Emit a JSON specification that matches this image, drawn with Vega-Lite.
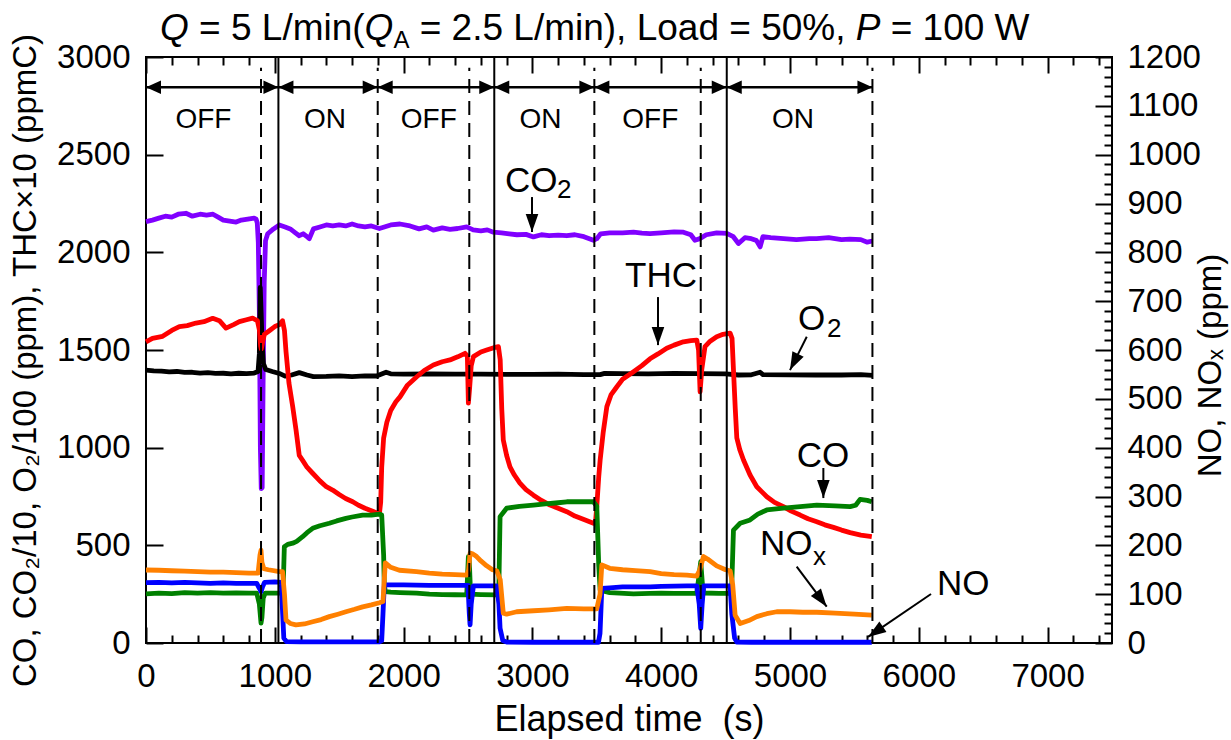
{
  "$schema": "https://vega.github.io/schema/vega-lite/v6.json",
  "width": 966,
  "height": 586,
  "autosize": {"type": "none"},
  "padding": {"left": 146, "top": 57, "right": 119, "bottom": 97},
  "background": "white",
  "config": {"view": {"stroke": "black", "strokeWidth": 2}, "font": "Liberation Sans", "axis": {"ticks": true, "tickColor": "#000000", "tickOpacity": 1}},
  "datasets": {
    "co2": [{"t":0,"v":2157},{"t":50,"v":2165},{"t":100,"v":2175},{"t":150,"v":2185},{"t":200,"v":2180},{"t":250,"v":2195},{"t":310,"v":2200},{"t":360,"v":2185},{"t":420,"v":2195},{"t":470,"v":2190},{"t":520,"v":2195},{"t":560,"v":2180},{"t":600,"v":2165},{"t":650,"v":2160},{"t":700,"v":2155},{"t":740,"v":2165},{"t":790,"v":2170},{"t":840,"v":2175},{"t":855,"v":2170},{"t":864,"v":2150},{"t":872,"v":2050},{"t":880,"v":1700},{"t":888,"v":1000},{"t":895,"v":790},{"t":902,"v":795},{"t":910,"v":1400},{"t":918,"v":1850},{"t":928,"v":2060},{"t":945,"v":2095},{"t":990,"v":2120},{"t":1035,"v":2140},{"t":1080,"v":2130},{"t":1120,"v":2120},{"t":1160,"v":2100},{"t":1190,"v":2085},{"t":1220,"v":2095},{"t":1250,"v":2080},{"t":1268,"v":2070},{"t":1300,"v":2120},{"t":1350,"v":2130},{"t":1400,"v":2140},{"t":1450,"v":2135},{"t":1500,"v":2140},{"t":1550,"v":2135},{"t":1600,"v":2145},{"t":1650,"v":2135},{"t":1700,"v":2130},{"t":1750,"v":2135},{"t":1812,"v":2122},{"t":1850,"v":2130},{"t":1900,"v":2140},{"t":1972,"v":2145},{"t":2050,"v":2135},{"t":2120,"v":2120},{"t":2180,"v":2130},{"t":2231,"v":2114},{"t":2300,"v":2125},{"t":2360,"v":2118},{"t":2420,"v":2122},{"t":2490,"v":2130},{"t":2540,"v":2115},{"t":2600,"v":2110},{"t":2650,"v":2115},{"t":2697,"v":2103},{"t":2760,"v":2100},{"t":2820,"v":2095},{"t":2880,"v":2090},{"t":2950,"v":2092},{"t":3008,"v":2079},{"t":3070,"v":2090},{"t":3130,"v":2085},{"t":3200,"v":2088},{"t":3267,"v":2085},{"t":3330,"v":2090},{"t":3400,"v":2080},{"t":3474,"v":2062},{"t":3500,"v":2070},{"t":3530,"v":2095},{"t":3600,"v":2100},{"t":3700,"v":2100},{"t":3785,"v":2103},{"t":3850,"v":2098},{"t":3913,"v":2096},{"t":4000,"v":2100},{"t":4100,"v":2105},{"t":4172,"v":2103},{"t":4230,"v":2090},{"t":4262,"v":2062},{"t":4300,"v":2070},{"t":4350,"v":2090},{"t":4431,"v":2100},{"t":4509,"v":2097},{"t":4560,"v":2080},{"t":4600,"v":2045},{"t":4650,"v":2075},{"t":4700,"v":2070},{"t":4740,"v":2060},{"t":4768,"v":2028},{"t":4790,"v":2080},{"t":4850,"v":2075},{"t":4950,"v":2070},{"t":5050,"v":2065},{"t":5150,"v":2070},{"t":5206,"v":2070},{"t":5300,"v":2075},{"t":5400,"v":2065},{"t":5465,"v":2068},{"t":5550,"v":2065},{"t":5600,"v":2052},{"t":5640,"v":2058}],
    "o2": [{"t":0,"v":1397},{"t":60,"v":1393},{"t":120,"v":1392},{"t":180,"v":1388},{"t":240,"v":1390},{"t":300,"v":1385},{"t":360,"v":1386},{"t":420,"v":1382},{"t":480,"v":1384},{"t":540,"v":1380},{"t":600,"v":1381},{"t":660,"v":1378},{"t":720,"v":1381},{"t":780,"v":1379},{"t":840,"v":1382},{"t":870,"v":1390},{"t":880,"v":1480},{"t":887,"v":1820},{"t":894,"v":1690},{"t":901,"v":1540},{"t":912,"v":1430},{"t":930,"v":1400},{"t":980,"v":1390},{"t":1035,"v":1380},{"t":1080,"v":1366},{"t":1130,"v":1372},{"t":1190,"v":1384},{"t":1250,"v":1372},{"t":1300,"v":1364},{"t":1400,"v":1365},{"t":1500,"v":1368},{"t":1600,"v":1364},{"t":1700,"v":1368},{"t":1790,"v":1367},{"t":1864,"v":1386},{"t":1900,"v":1378},{"t":2000,"v":1376},{"t":2200,"v":1378},{"t":2400,"v":1376},{"t":2600,"v":1377},{"t":2800,"v":1375},{"t":3000,"v":1375},{"t":3200,"v":1376},{"t":3400,"v":1374},{"t":3526,"v":1374},{"t":3560,"v":1380},{"t":3700,"v":1379},{"t":3900,"v":1378},{"t":4100,"v":1380},{"t":4300,"v":1379},{"t":4500,"v":1378},{"t":4600,"v":1372},{"t":4700,"v":1373},{"t":4768,"v":1386},{"t":4790,"v":1374},{"t":5000,"v":1373},{"t":5200,"v":1372},{"t":5400,"v":1372},{"t":5550,"v":1374},{"t":5640,"v":1370}],
    "thc": [{"t":0,"v":1542},{"t":50,"v":1560},{"t":129,"v":1570},{"t":200,"v":1600},{"t":259,"v":1620},{"t":320,"v":1625},{"t":388,"v":1638},{"t":450,"v":1645},{"t":518,"v":1662},{"t":570,"v":1650},{"t":621,"v":1612},{"t":680,"v":1630},{"t":725,"v":1645},{"t":780,"v":1655},{"t":828,"v":1663},{"t":865,"v":1650},{"t":880,"v":1604},{"t":890,"v":1520},{"t":895,"v":1505},{"t":905,"v":1540},{"t":919,"v":1580},{"t":960,"v":1600},{"t":1000,"v":1620},{"t":1035,"v":1630},{"t":1060,"v":1650},{"t":1075,"v":1600},{"t":1087,"v":1492},{"t":1110,"v":1330},{"t":1139,"v":1210},{"t":1165,"v":1090},{"t":1190,"v":960},{"t":1216,"v":935},{"t":1250,"v":900},{"t":1294,"v":869},{"t":1350,"v":830},{"t":1400,"v":800},{"t":1449,"v":783},{"t":1500,"v":760},{"t":1550,"v":740},{"t":1605,"v":723},{"t":1650,"v":705},{"t":1700,"v":690},{"t":1760,"v":675},{"t":1812,"v":660},{"t":1822,"v":720},{"t":1830,"v":900},{"t":1845,"v":1050},{"t":1870,"v":1130},{"t":1900,"v":1190},{"t":1940,"v":1235},{"t":1972,"v":1260},{"t":2030,"v":1320},{"t":2102,"v":1363},{"t":2160,"v":1395},{"t":2231,"v":1423},{"t":2300,"v":1440},{"t":2360,"v":1449},{"t":2420,"v":1465},{"t":2477,"v":1483},{"t":2495,"v":1470},{"t":2503,"v":1228},{"t":2512,"v":1300},{"t":2525,"v":1420},{"t":2542,"v":1466},{"t":2600,"v":1490},{"t":2645,"v":1500},{"t":2700,"v":1512},{"t":2736,"v":1517},{"t":2750,"v":1450},{"t":2762,"v":1200},{"t":2774,"v":1039},{"t":2800,"v":960},{"t":2826,"v":902},{"t":2860,"v":860},{"t":2903,"v":818},{"t":2950,"v":785},{"t":3008,"v":757},{"t":3070,"v":730},{"t":3137,"v":706},{"t":3200,"v":690},{"t":3267,"v":672},{"t":3330,"v":650},{"t":3400,"v":632},{"t":3474,"v":613},{"t":3490,"v":620},{"t":3500,"v":700},{"t":3515,"v":850},{"t":3526,"v":937},{"t":3550,"v":1080},{"t":3578,"v":1210},{"t":3610,"v":1270},{"t":3656,"v":1312},{"t":3700,"v":1350},{"t":3785,"v":1389},{"t":3850,"v":1420},{"t":3913,"v":1455},{"t":3975,"v":1480},{"t":4043,"v":1509},{"t":4100,"v":1525},{"t":4172,"v":1542},{"t":4230,"v":1548},{"t":4276,"v":1551},{"t":4290,"v":1500},{"t":4302,"v":1286},{"t":4315,"v":1400},{"t":4340,"v":1517},{"t":4380,"v":1545},{"t":4431,"v":1568},{"t":4480,"v":1580},{"t":4535,"v":1586},{"t":4550,"v":1560},{"t":4561,"v":1400},{"t":4575,"v":1200},{"t":4587,"v":1050},{"t":4610,"v":990},{"t":4639,"v":937},{"t":4690,"v":860},{"t":4742,"v":800},{"t":4780,"v":775},{"t":4820,"v":749},{"t":4880,"v":720},{"t":4949,"v":698},{"t":5010,"v":675},{"t":5079,"v":655},{"t":5140,"v":636},{"t":5208,"v":621},{"t":5270,"v":605},{"t":5337,"v":592},{"t":5400,"v":578},{"t":5467,"v":565},{"t":5550,"v":552},{"t":5635,"v":544}],
    "co": [{"t":0,"v":251},{"t":100,"v":255},{"t":200,"v":253},{"t":300,"v":258},{"t":400,"v":255},{"t":500,"v":258},{"t":600,"v":255},{"t":700,"v":256},{"t":800,"v":255},{"t":860,"v":255},{"t":880,"v":200},{"t":893,"v":102},{"t":900,"v":130},{"t":910,"v":230},{"t":925,"v":255},{"t":1000,"v":255},{"t":1061,"v":255},{"t":1068,"v":350},{"t":1074,"v":493},{"t":1100,"v":505},{"t":1139,"v":511},{"t":1170,"v":520},{"t":1216,"v":544},{"t":1250,"v":565},{"t":1294,"v":587},{"t":1350,"v":600},{"t":1423,"v":613},{"t":1480,"v":625},{"t":1552,"v":638},{"t":1600,"v":645},{"t":1682,"v":655},{"t":1750,"v":655},{"t":1812,"v":660},{"t":1830,"v":655},{"t":1845,"v":450},{"t":1850,"v":300},{"t":1858,"v":263},{"t":1900,"v":260},{"t":1972,"v":258},{"t":2100,"v":255},{"t":2200,"v":250},{"t":2300,"v":248},{"t":2400,"v":247},{"t":2490,"v":246},{"t":2497,"v":350},{"t":2503,"v":442},{"t":2510,"v":420},{"t":2520,"v":250},{"t":2600,"v":248},{"t":2723,"v":246},{"t":2740,"v":300},{"t":2749,"v":647},{"t":2800,"v":690},{"t":2900,"v":700},{"t":3008,"v":706},{"t":3100,"v":712},{"t":3200,"v":718},{"t":3267,"v":723},{"t":3400,"v":723},{"t":3474,"v":723},{"t":3500,"v":700},{"t":3515,"v":400},{"t":3526,"v":271},{"t":3600,"v":258},{"t":3785,"v":251},{"t":3913,"v":254},{"t":4000,"v":255},{"t":4100,"v":254},{"t":4200,"v":254},{"t":4276,"v":254},{"t":4295,"v":350},{"t":4307,"v":416},{"t":4320,"v":300},{"t":4330,"v":256},{"t":4450,"v":254},{"t":4535,"v":254},{"t":4548,"v":300},{"t":4561,"v":578},{"t":4613,"v":613},{"t":4690,"v":630},{"t":4750,"v":660},{"t":4820,"v":681},{"t":4949,"v":690},{"t":5079,"v":698},{"t":5208,"v":706},{"t":5350,"v":702},{"t":5467,"v":698},{"t":5510,"v":705},{"t":5544,"v":735},{"t":5600,"v":730},{"t":5635,"v":723}],
    "no": [{"t":0,"v":123.5},{"t":100,"v":124},{"t":200,"v":123},{"t":300,"v":124},{"t":400,"v":123},{"t":500,"v":122},{"t":600,"v":123},{"t":700,"v":122},{"t":800,"v":122},{"t":860,"v":122},{"t":880,"v":112},{"t":893,"v":105},{"t":905,"v":115},{"t":920,"v":124},{"t":1000,"v":125},{"t":1050,"v":124},{"t":1061,"v":60},{"t":1070,"v":10},{"t":1090,"v":3},{"t":1200,"v":2.5},{"t":1500,"v":2.5},{"t":1812,"v":2.5},{"t":1830,"v":5},{"t":1840,"v":60},{"t":1850,"v":119},{"t":1900,"v":119},{"t":2000,"v":119},{"t":2200,"v":118},{"t":2400,"v":118},{"t":2500,"v":118},{"t":2510,"v":60},{"t":2516,"v":37},{"t":2525,"v":80},{"t":2542,"v":117},{"t":2723,"v":117},{"t":2740,"v":80},{"t":2749,"v":30},{"t":2770,"v":5},{"t":2800,"v":2},{"t":3000,"v":1.5},{"t":3513,"v":1.5},{"t":3525,"v":20},{"t":3539,"v":112},{"t":3600,"v":113},{"t":3700,"v":115},{"t":3914,"v":115},{"t":4000,"v":116},{"t":4200,"v":117},{"t":4276,"v":117},{"t":4295,"v":80},{"t":4307,"v":30},{"t":4318,"v":80},{"t":4330,"v":117},{"t":4535,"v":117},{"t":4548,"v":60},{"t":4570,"v":10},{"t":4587,"v":2},{"t":4700,"v":1.5},{"t":5635,"v":1.5}],
    "nox": [{"t":0,"v":149.5},{"t":100,"v":149},{"t":200,"v":148},{"t":300,"v":147},{"t":400,"v":146},{"t":500,"v":145},{"t":600,"v":145},{"t":700,"v":144},{"t":800,"v":143},{"t":870,"v":143},{"t":885,"v":180},{"t":893,"v":190},{"t":900,"v":165},{"t":915,"v":152},{"t":950,"v":150},{"t":1035,"v":146},{"t":1060,"v":146},{"t":1075,"v":100},{"t":1087,"v":47},{"t":1120,"v":40},{"t":1164,"v":37},{"t":1230,"v":39},{"t":1294,"v":43.6},{"t":1360,"v":48},{"t":1423,"v":54},{"t":1490,"v":59},{"t":1552,"v":64},{"t":1620,"v":69},{"t":1682,"v":74},{"t":1750,"v":78},{"t":1812,"v":82.5},{"t":1840,"v":85},{"t":1850,"v":130},{"t":1858,"v":164},{"t":1900,"v":155},{"t":1967,"v":149},{"t":2100,"v":146},{"t":2200,"v":143},{"t":2300,"v":141},{"t":2400,"v":140},{"t":2490,"v":139},{"t":2505,"v":150},{"t":2516,"v":184},{"t":2540,"v":182},{"t":2567,"v":177},{"t":2600,"v":168},{"t":2645,"v":158},{"t":2690,"v":150},{"t":2723,"v":148},{"t":2750,"v":130},{"t":2774,"v":61},{"t":2800,"v":59},{"t":2878,"v":64},{"t":3008,"v":66},{"t":3130,"v":68},{"t":3267,"v":71},{"t":3400,"v":70},{"t":3500,"v":70},{"t":3525,"v":100},{"t":3539,"v":160},{"t":3600,"v":153},{"t":3700,"v":150},{"t":3800,"v":148},{"t":3914,"v":146},{"t":4000,"v":142},{"t":4100,"v":140},{"t":4200,"v":139},{"t":4276,"v":137},{"t":4300,"v":150},{"t":4328,"v":177},{"t":4360,"v":172},{"t":4431,"v":158},{"t":4500,"v":150},{"t":4535,"v":148},{"t":4555,"v":120},{"t":4574,"v":57},{"t":4613,"v":40},{"t":4680,"v":46},{"t":4742,"v":54},{"t":4820,"v":60},{"t":4897,"v":64},{"t":5000,"v":64},{"t":5100,"v":63},{"t":5208,"v":63},{"t":5350,"v":61},{"t":5500,"v":59},{"t":5635,"v":57}],
    "dashed": [{"t":893},{"t":1799},{"t":2510},{"t":3481},{"t":4307},{"t":5640}],
    "solid": [{"t":1028},{"t":2704},{"t":4509}],
    "phases": [{"t":0,"t2":1028,"text":"OFF","lt":446},{"t":1028,"t2":1799,"text":"ON","lt":1390},{"t":1799,"t2":2704,"text":"OFF","lt":2196},{"t":2704,"t2":3481,"text":"ON","lt":3063},{"t":3481,"t2":4509,"text":"OFF","lt":3915},{"t":4509,"t2":5640,"text":"ON","lt":5023}],
    "arrows": [{"name":"CO2","t":2997,"v":2283,"t2":2997,"v2":2104,"dir":"down"},{"name":"THC","t":3975,"v":1771,"t2":3975,"v2":1525,"dir":"down"},{"name":"CO","t":5259,"v":896,"t2":5259,"v2":742,"dir":"down"},{"name":"O2","t":5130,"v":1568,"t2":5000,"v2":1397,"dir":"o2"},{"name":"NOx","t":5052,"v":391,"t2":5285,"v2":186,"dir":"nox"},{"name":"NO","t":6095,"v":251,"t2":5606,"v2":31,"dir":"no"}],
    "labels": [{"text":"CO","t":2787,"v":2309},{"text":"THC","t":3719,"v":1822},{"text":"O","t":5062,"v":1602},{"text":"CO","t":5052,"v":901},{"text":"NO","t":4767,"v":450},{"text":"NO","t":6141,"v":246}],
    "subs": [{"text":"2","t":3191,"v":2278},{"text":"2","t":5287,"v":1566},{"text":"x","t":5179,"v":399}],
    "titleNormal": [{"text":"= 5 L/min(","t":412,"v":3087},{"text":"= 2.5 L/min), Load = 50%,","t":2125,"v":3087},{"text":"= 100 W","t":5782,"v":3087}],
    "titleItalic": [{"text":"Q","t":109,"v":3087},{"text":"Q","t":1697,"v":3087},{"text":"P","t":5510,"v":3087}],
    "titleSub": [{"text":"A","t":1921,"v":3046}]
  },
  "resolve": {"scale": {"y": "independent"}, "axis": {"x": "independent", "y": "independent"}},
  "layer": [
    {
      "encoding": {
        "x": {"field": "t", "type": "quantitative", "scale": {"domain": [0, 7500], "nice": false, "zero": false},
          "axis": {"orient": "bottom", "values": [0,1000,2000,3000,4000,5000,6000,7000], "format": "d",
            "ticks": true, "offset": -16, "tickSize": 16, "tickWidth": 2, "tickColor": "#000000", "tickOpacity": 1, "domain": false, "grid": false,
            "labelFont": "Liberation Sans", "labelFontSize": 33, "labelColor": "black", "labelPadding": 17, "labelFlush": false, "labelOverlap": false,
            "title": "Elapsed time\u00a0 (s)", "titleFont": "Liberation Sans", "titleFontSize": 36, "titleFontWeight": "normal", "titleColor": "black", "titleY": 103, "titleBaseline": "alphabetic"}},
        "y": {"field": "v", "type": "quantitative", "scale": {"domain": [0, 3000], "nice": false},
          "axis": {"orient": "left", "values": [0,500,1000,1500,2000,2500,3000], "format": "d",
            "ticks": true, "offset": -17, "tickSize": 17, "tickWidth": 2, "tickColor": "#000000", "tickOpacity": 1, "domain": false, "grid": false,
            "labelFont": "Liberation Sans", "labelFontSize": 33, "labelColor": "black", "labelPadding": 16, "labelOverlap": false, "labelFlush": false,
            "title": "CO, CO\u2082/10, O\u2082/100 (ppm), THC\u00d710 (ppmC)", "titleFont": "Liberation Sans", "titleFontSize": 33, "titleFontWeight": "normal", "titleColor": "black",
            "titleAngle": 270, "titleX": -138, "titleY": 303, "titleBaseline": "middle", "titleAlign": "center"}}
      },
      "layer": [
        {"data": {"name": "co2"}, "mark": {"type": "line", "color": "#8000ff", "strokeWidth": 4.8, "strokeJoin": "round"}},
        {"data": {"name": "o2"}, "mark": {"type": "line", "color": "#000000", "strokeWidth": 4.8, "strokeJoin": "round"}},
        {"data": {"name": "thc"}, "mark": {"type": "line", "color": "#ff0000", "strokeWidth": 4.8, "strokeJoin": "round"}},
        {"data": {"name": "co"}, "mark": {"type": "line", "color": "#008000", "strokeWidth": 4.8, "strokeJoin": "round"}}
      ]
    },
    {
      "encoding": {
        "x": {"field": "t", "type": "quantitative", "scale": {"domain": [0, 7500], "nice": false, "zero": false},
          "axis": {"orient": "top", "values": [0,1000,2000,3000,4000,5000,6000,7000], "labels": false, "title": null,
            "ticks": true, "offset": -16, "tickSize": 16, "tickWidth": 2, "tickColor": "#000000", "tickOpacity": 1, "domain": false, "grid": false}},
        "y": {"field": "v", "type": "quantitative", "scale": {"domain": [0, 1200], "nice": false},
          "axis": {"orient": "right", "values": [0,100,200,300,400,500,600,700,800,900,1000,1100,1200], "format": "d",
            "ticks": true, "offset": -17, "tickSize": 17, "tickWidth": 2, "tickColor": "#000000", "tickOpacity": 1, "domain": false, "grid": false,
            "labelFont": "Liberation Sans", "labelFontSize": 33, "labelColor": "black", "labelPadding": 15, "labelOverlap": false, "labelFlush": false,
            "title": "NO, NO\u2093 (ppm)", "titleFont": "Liberation Sans", "titleFontSize": 33, "titleFontWeight": "normal", "titleColor": "black",
            "titleAngle": 270, "titleX": 115, "titleY": 308, "titleBaseline": "middle", "titleAlign": "center"}}
      },
      "layer": [
        {"data": {"name": "no"}, "mark": {"type": "line", "color": "#0000ff", "strokeWidth": 4.8, "strokeJoin": "round"}}
      ]
    },
    {
      "encoding": {
        "x": {"field": "t", "type": "quantitative", "scale": {"domain": [0, 7500], "nice": false, "zero": false},
          "axis": {"orient": "top", "values": [200,400,600,800,1200,1400,1600,1800,2200,2400,2600,2800,3200,3400,3600,3800,4200,4400,4600,4800,5200,5400,5600,5800,6200,6400,6600,6800,7200,7400],
            "labels": false, "title": null, "ticks": true, "offset": -8, "tickSize": 8, "tickWidth": 2, "tickColor": "#000000", "tickOpacity": 1, "domain": false, "grid": false}},
        "y": {"field": "v", "type": "quantitative", "scale": {"domain": [0, 1200], "nice": false},
          "axis": {"orient": "right", "values": [20,40,60,80,120,140,160,180,220,240,260,280,320,340,360,380,420,440,460,480,520,540,560,580,620,640,660,680,720,740,760,780,820,840,860,880,920,940,960,980,1020,1040,1060,1080,1120,1140,1160,1180],
            "labels": false, "title": null, "ticks": true, "offset": -8, "tickSize": 8, "tickWidth": 2, "tickColor": "#000000", "tickOpacity": 1, "domain": false, "grid": false}}
      },
      "layer": [
        {"data": {"name": "nox"}, "mark": {"type": "line", "color": "#ff8000", "strokeWidth": 4.8, "strokeJoin": "round"}}
      ]
    },
    {
      "encoding": {
        "x": {"field": "t", "type": "quantitative", "scale": {"domain": [0, 7500], "nice": false, "zero": false},
          "axis": {"orient": "bottom", "values": [200,400,600,800,1200,1400,1600,1800,2200,2400,2600,2800,3200,3400,3600,3800,4200,4400,4600,4800,5200,5400,5600,5800,6200,6400,6600,6800,7200,7400],
            "labels": false, "title": null, "ticks": true, "offset": -8, "tickSize": 8, "tickWidth": 2, "tickColor": "#000000", "tickOpacity": 1, "domain": false, "grid": false}}
      },
      "layer": [
        {"data": {"name": "arrows"}, "mark": {"type": "rule", "color": "black", "strokeWidth": 2},
          "encoding": {
            "y": {"field": "v", "type": "quantitative", "scale": {"domain": [0, 3000], "nice": false},
              "axis": {"orient": "left", "values": [100,200,300,400,600,700,800,900,1100,1200,1300,1400,1600,1700,1800,1900,2100,2200,2300,2400,2600,2700,2800,2900],
                "labels": false, "title": null, "ticks": true, "offset": -8, "tickSize": 8, "tickWidth": 2, "tickColor": "#000000", "tickOpacity": 1, "domain": false, "grid": false}},
            "x2": {"field": "t2"}, "y2": {"field": "v2"}}},
        {"data": {"name": "dashed"}, "mark": {"type": "rule", "color": "black", "strokeWidth": 2, "strokeDash": [14, 8]},
          "encoding": {"y": {"datum": 0, "type": "quantitative", "scale": {"domain": [0, 3000], "nice": false}, "axis": null}, "y2": {"datum": 2945}}},
        {"data": {"name": "solid"}, "mark": {"type": "rule", "color": "black", "strokeWidth": 2},
          "encoding": {"y": {"datum": 0, "type": "quantitative", "scale": {"domain": [0, 3000], "nice": false}, "axis": null}, "y2": {"datum": 3000}}},
        {"data": {"name": "phases"}, "mark": {"type": "rule", "color": "black", "strokeWidth": 2.5},
          "encoding": {"x2": {"field": "t2"}, "y": {"datum": 2845, "type": "quantitative", "scale": {"domain": [0, 3000], "nice": false}, "axis": null}}},
        {"data": {"name": "phases"}, "mark": {"type": "point", "shape": "M0,0L0.9,2L-0.9,2Z", "filled": true, "color": "black", "opacity": 1, "size": 225, "angle": 270, "strokeWidth": 0},
          "encoding": {"y": {"datum": 2845, "type": "quantitative", "scale": {"domain": [0, 3000], "nice": false}, "axis": null}}},
        {"data": {"name": "phases"}, "mark": {"type": "point", "shape": "M0,0L0.9,2L-0.9,2Z", "filled": true, "color": "black", "opacity": 1, "size": 225, "angle": 90, "strokeWidth": 0},
          "encoding": {"x": {"field": "t2"}, "y": {"datum": 2845, "type": "quantitative", "scale": {"domain": [0, 3000], "nice": false}, "axis": null}}},
        {"data": {"name": "phases"}, "mark": {"type": "text", "font": "Liberation Sans", "fontSize": 28, "color": "black", "align": "center", "baseline": "alphabetic"},
          "encoding": {"x": {"field": "lt"}, "y": {"datum": 2636, "type": "quantitative", "scale": {"domain": [0, 3000], "nice": false}, "axis": null}, "text": {"field": "text"}}},
        {"data": {"name": "arrows"}, "transform": [{"filter": "datum.dir === 'down'"}], "mark": {"type": "point", "shape": "M0,0L0.7,2L-0.7,2Z", "filled": true, "color": "black", "opacity": 1, "size": 324, "angle": 180, "strokeWidth": 0},
          "encoding": {"x": {"field": "t2"}, "y": {"field": "v2", "type": "quantitative", "scale": {"domain": [0, 3000], "nice": false}, "axis": null}}},
        {"data": {"name": "arrows"}, "transform": [{"filter": "datum.dir === 'o2'"}], "mark": {"type": "point", "shape": "M0,0L0.7,2L-0.7,2Z", "filled": true, "color": "black", "opacity": 1, "size": 324, "angle": 206.6, "strokeWidth": 0},
          "encoding": {"x": {"field": "t2"}, "y": {"field": "v2", "type": "quantitative", "scale": {"domain": [0, 3000], "nice": false}, "axis": null}}},
        {"data": {"name": "arrows"}, "transform": [{"filter": "datum.dir === 'nox'"}], "mark": {"type": "point", "shape": "M0,0L0.7,2L-0.7,2Z", "filled": true, "color": "black", "opacity": 1, "size": 324, "angle": 143.1, "strokeWidth": 0},
          "encoding": {"x": {"field": "t2"}, "y": {"field": "v2", "type": "quantitative", "scale": {"domain": [0, 3000], "nice": false}, "axis": null}}},
        {"data": {"name": "arrows"}, "transform": [{"filter": "datum.dir === 'no'"}], "mark": {"type": "point", "shape": "M0,0L0.7,2L-0.7,2Z", "filled": true, "color": "black", "opacity": 1, "size": 324, "angle": 235.7, "strokeWidth": 0},
          "encoding": {"x": {"field": "t2"}, "y": {"field": "v2", "type": "quantitative", "scale": {"domain": [0, 3000], "nice": false}, "axis": null}}},
        {"data": {"name": "labels"}, "mark": {"type": "text", "font": "Liberation Sans", "fontSize": 35, "color": "black", "align": "left", "baseline": "alphabetic"},
          "encoding": {"y": {"field": "v", "type": "quantitative", "scale": {"domain": [0, 3000], "nice": false}, "axis": null}, "text": {"field": "text"}}},
        {"data": {"name": "subs"}, "mark": {"type": "text", "font": "Liberation Sans", "fontSize": 26, "color": "black", "align": "left", "baseline": "alphabetic"},
          "encoding": {"y": {"field": "v", "type": "quantitative", "scale": {"domain": [0, 3000], "nice": false}, "axis": null}, "text": {"field": "text"}}},
        {"data": {"name": "titleNormal"}, "mark": {"type": "text", "font": "Liberation Sans", "fontSize": 37, "color": "black", "align": "left", "baseline": "alphabetic"},
          "encoding": {"y": {"field": "v", "type": "quantitative", "scale": {"domain": [0, 3000], "nice": false}, "axis": null}, "text": {"field": "text"}}},
        {"data": {"name": "titleItalic"}, "mark": {"type": "text", "font": "Liberation Sans", "fontSize": 37, "fontStyle": "italic", "color": "black", "align": "left", "baseline": "alphabetic"},
          "encoding": {"y": {"field": "v", "type": "quantitative", "scale": {"domain": [0, 3000], "nice": false}, "axis": null}, "text": {"field": "text"}}},
        {"data": {"name": "titleSub"}, "mark": {"type": "text", "font": "Liberation Sans", "fontSize": 24, "color": "black", "align": "left", "baseline": "alphabetic"},
          "encoding": {"y": {"field": "v", "type": "quantitative", "scale": {"domain": [0, 3000], "nice": false}, "axis": null}, "text": {"field": "text"}}}
      ]
    }
  ]
}
